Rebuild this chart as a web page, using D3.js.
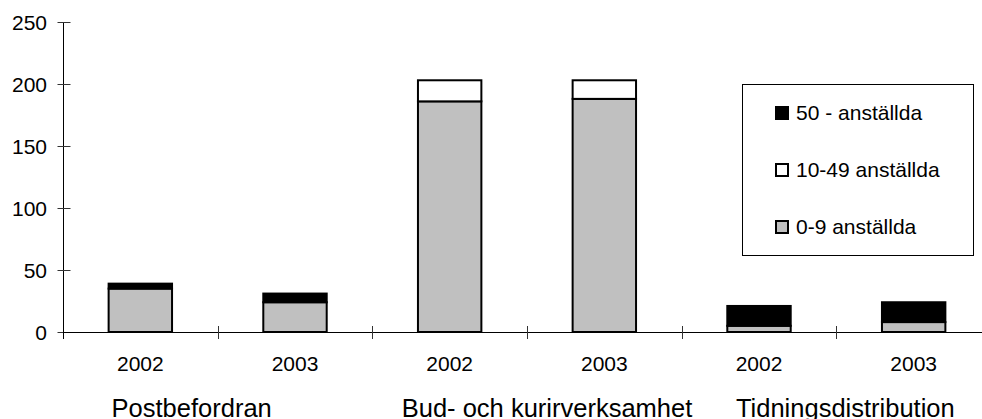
<!DOCTYPE html>
<html>
<head>
<meta charset="utf-8">
<script src="https://d3js.org/d3.v7.min.js"></script>
<style>
  body { margin: 0; background: #fff; }
  text { font-family: "Liberation Sans", Arial, sans-serif; fill: #000; }
  .tick-label { font-size: 21px; }
  .group-label { font-size: 25.5px; }
  .legend text { font-size: 21px; }
</style>
</head>
<body>
<div id="chart"></div>
<script>
  // data
  var years = ['2002', '2003', '2002', '2003', '2002', '2003'];
  var groups = ['Postbefordran', 'Bud- och kurirverksamhet', 'Tidningsdistribution'];
  var small = [35, 24, 186, 188, 5, 8];      // 0-9 anställda
  var medium = [0, 0, 17, 15, 0, 0];        // 10-49 anställda
  var large = [4, 7, 0, 0, 16, 16];         // 50 - anställda
  var yTicks = [0, 50, 100, 150, 200, 250];

  var seriesKeys = ['small', 'medium', 'large'];
  var seriesNames = { small: '0-9 anställda', medium: '10-49 anställda', large: '50 - anställda' };
  var seriesFill = { small: '#c0c0c0', medium: '#ffffff', large: '#000000' };

  var width = 982, height = 419;
  var x0 = 63, x1 = 991, y0 = 332, yTop = 22;

  var rows = years.map(function(y, i) {
    return { i: i, small: small[i], medium: medium[i], large: large[i] };
  });

  var svg = d3.select('#chart').append('svg')
    .attr('width', width)
    .attr('height', height);

  var x = d3.scaleBand()
    .domain(d3.range(years.length))
    .range([x0, x1])
    .paddingInner(0.59)
    .paddingOuter(0.295);

  var y = d3.scaleLinear().domain([0, 250]).range([y0, yTop]);

  var stack = d3.stack().keys(seriesKeys);
  var layers = stack(rows);

  // bars
  svg.append('g').selectAll('g')
    .data(layers)
    .enter().append('g')
    .attr('fill', function(d) { return seriesFill[d.key]; })
    .selectAll('rect')
    .data(function(d) { return d.filter(function(p) { return p[1] - p[0] > 0; }); })
    .enter().append('rect')
    .attr('x', function(d) { return x(d.data.i); })
    .attr('width', x.bandwidth())
    .attr('y', function(d) { return y(d[1]); })
    .attr('height', function(d) { return y(d[0]) - y(d[1]); })
    .attr('stroke', '#000')
    .attr('stroke-width', 2);

  // y axis
  var yAxis = svg.append('g').attr('transform', 'translate(' + x0 + ',0)')
    .call(d3.axisLeft(y).tickValues(yTicks).tickSize(0).tickPadding(16));
  yAxis.select('.domain').attr('d', 'M0.5,' + yTop + 'V' + (y0 + 7)).attr('stroke', '#000');
  yAxis.selectAll('.tick line').attr('x1', -6).attr('x2', 7).attr('stroke', '#333')
    .attr('transform', 'translate(0.5,0)');
  yAxis.selectAll('.tick text').attr('class', 'tick-label').attr('dy', '0.36em');

  // x axis
  var boundaries = d3.range(years.length + 1).map(function(i) {
    return i < years.length ? x(i) - x.step() * x.paddingInner() / 2 : x1;
  });
  var xAxis = svg.append('g');
  xAxis.append('line')
    .attr('x1', x0).attr('x2', x1)
    .attr('y1', y0 + 0.5).attr('y2', y0 + 0.5)
    .attr('stroke', '#000');
  xAxis.selectAll('.xtick')
    .data(boundaries.slice(1))
    .enter().append('line')
    .attr('x1', function(d) { return Math.round(d) + 0.5; })
    .attr('x2', function(d) { return Math.round(d) + 0.5; })
    .attr('y1', y0 - 6).attr('y2', y0 + 7)
    .attr('stroke', '#333');

  svg.append('g').selectAll('text')
    .data(years)
    .enter().append('text')
    .attr('class', 'tick-label')
    .attr('x', function(d, i) { return x(i) + x.bandwidth() / 2; })
    .attr('y', 371)
    .attr('text-anchor', 'middle')
    .text(function(d) { return d; });

  // group labels (nudged the way the original sits)
  var groupNudge = [-26, 20, 9];
  svg.append('g').selectAll('text')
    .data(groups)
    .enter().append('text')
    .attr('class', 'group-label')
    .attr('x', function(d, i) {
      var a = boundaries[i * 2], b = boundaries[i * 2 + 2];
      return (a + b) / 2 + groupNudge[i];
    })
    .attr('y', 417)
    .attr('text-anchor', 'middle')
    .text(function(d) { return d; });

  // legend
  var legend = svg.append('g').attr('class', 'legend')
    .attr('transform', 'translate(742,84)');
  legend.append('rect')
    .attr('x', 0.5).attr('y', 0.5)
    .attr('width', 231).attr('height', 171)
    .attr('fill', '#fff')
    .attr('stroke', '#000');
  var item = legend.selectAll('.item')
    .data(seriesKeys.slice().reverse())
    .enter().append('g')
    .attr('class', 'item')
    .attr('transform', function(d, i) { return 'translate(34,' + (23 + i * 57) + ')'; });
  item.append('rect')
    .attr('width', 12).attr('height', 12)
    .attr('fill', function(d) { return seriesFill[d]; })
    .attr('stroke', '#000')
    .attr('stroke-width', 2);
  item.append('text')
    .attr('x', 20)
    .attr('y', 13)
    .text(function(d) { return seriesNames[d]; });
</script>
</body>
</html>
